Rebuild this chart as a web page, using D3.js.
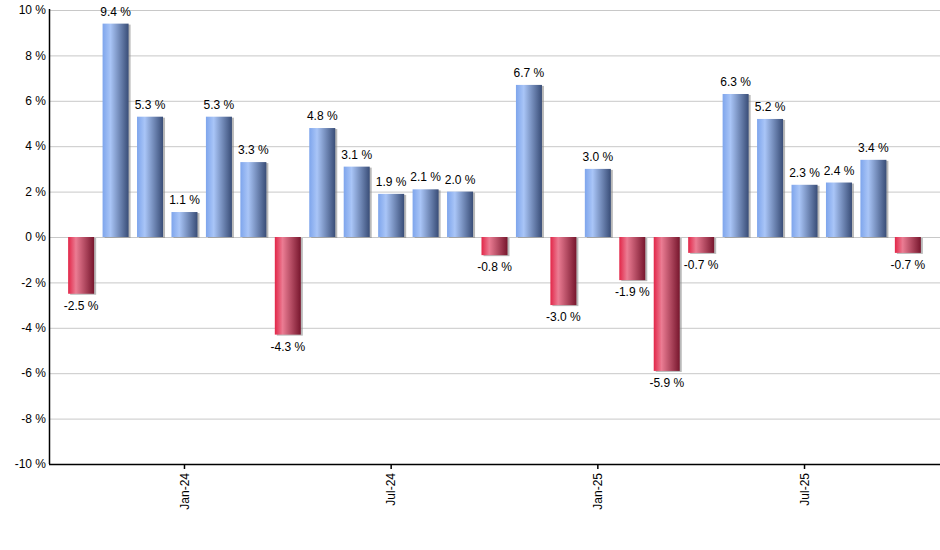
<!DOCTYPE html>
<html>
<head>
  <meta charset="utf-8">
  <script src="https://d3js.org/d3.v7.min.js"></script>
  <style>
    body { margin: 0; background: #fff; }
    svg { font-family: "Liberation Sans", Arial, sans-serif; }
    .grid line { stroke: #c8c8c8; stroke-width: 1px; }
    .lbl { font-size: 12px; fill: #000; }
  </style>
</head>
<body>
  <svg></svg>
  <script>
    const width = 940, height = 550;

    // monthly returns, Oct-23 .. Oct-25
    const months = ["Oct-23","Nov-23","Dec-23","Jan-24","Feb-24","Mar-24","Apr-24","May-24","Jun-24",
      "Jul-24","Aug-24","Sep-24","Oct-24","Nov-24","Dec-24","Jan-25","Feb-25","Mar-25","Apr-25",
      "May-25","Jun-25","Jul-25","Aug-25","Sep-25","Oct-25"];
    const returns = [-2.5, 9.4, 5.3, 1.1, 5.3, 3.3, -4.3, 4.8, 3.1, 1.9, 2.1, 2.0, -0.8, 6.7,
      -3.0, 3.0, -1.9, -5.9, -0.7, 6.3, 5.2, 2.3, 2.4, 3.4, -0.7];
    const yTicks = [-10, -8, -6, -4, -2, 0, 2, 4, 6, 8, 10];
    const xTickLabels = ["Jan-24", "Jul-24", "Jan-25", "Jul-25"];

    const mLeft = 49, mRight = 940, mTop = 10, mBottom = 464;

    const svg = d3.select("svg").attr("width", width).attr("height", height);

    const defs = svg.append("defs");
    function grad(id, c0, c1, c2) {
      const g = defs.append("linearGradient").attr("id", id)
        .attr("x1", "0%").attr("x2", "100%").attr("y1", "0%").attr("y2", "0%");
      g.append("stop").attr("offset", "0%").attr("stop-color", c0);
      g.append("stop").attr("offset", "30%").attr("stop-color", c1);
      g.append("stop").attr("offset", "100%").attr("stop-color", c2);
    }
    grad("gBlue", "#7ea5ec", "#a9c5f7", "#394d77");
    grad("gRed", "#e22648", "#eb7c93", "#77162d");

    const y = d3.scaleLinear().domain([-10, 10]).range([mBottom, mTop]);
    const x = d3.scaleBand().domain(months).range([64, 925]).paddingInner(0.245).paddingOuter(0.12);

    // gridlines
    svg.append("g").attr("class", "grid")
      .selectAll("line").data(yTicks).enter().append("line")
        .attr("x1", mLeft).attr("x2", mRight)
        .attr("y1", d => y(d) + 0.5).attr("y2", d => y(d) + 0.5);

    // y labels
    svg.append("g").selectAll("text").data(yTicks).enter().append("text")
      .attr("class", "lbl")
      .attr("x", mLeft - 3).attr("y", d => y(d)).attr("dy", "0.35em")
      .attr("text-anchor", "end")
      .text(d => d + " %");

    // bars with shadow
    const bars = svg.append("g");
    bars.selectAll("rect.sh").data(returns).enter().append("rect")
      .attr("x", (d, i) => x(months[i]) + 2)
      .attr("y", d => Math.min(y(d), y(0)) + 1)
      .attr("width", x.bandwidth())
      .attr("height", d => Math.abs(y(d) - y(0)))
      .attr("fill", "#8a8a8a").attr("opacity", 0.6);
    bars.selectAll("rect.b").data(returns).enter().append("rect")
      .attr("x", (d, i) => x(months[i]))
      .attr("y", d => Math.min(y(d), y(0)))
      .attr("width", x.bandwidth())
      .attr("height", d => Math.abs(y(d) - y(0)))
      .attr("fill", d => d >= 0 ? "url(#gBlue)" : "url(#gRed)");

    // value labels
    svg.append("g").selectAll("text").data(returns).enter().append("text")
      .attr("class", "lbl")
      .attr("x", (d, i) => x(months[i]) + x.bandwidth() / 2)
      .attr("y", d => d >= 0 ? y(d) - 8 : y(d) + 16)
      .attr("text-anchor", "middle")
      .text(d => d.toFixed(1) + " %");

    // axes
    svg.append("line").attr("x1", mLeft + 0.5).attr("x2", mLeft + 0.5)
      .attr("y1", mTop - 1).attr("y2", mBottom).attr("stroke", "#000").attr("stroke-width", 1.5);
    svg.append("line").attr("x1", mLeft).attr("x2", mRight)
      .attr("y1", mBottom + 0.5).attr("y2", mBottom + 0.5).attr("stroke", "#000").attr("stroke-width", 1.5);

    const xt = svg.append("g").selectAll("g").data(xTickLabels).enter().append("g")
      .attr("transform", d => "translate(" + (x(d) + x.bandwidth() / 2) + "," + mBottom + ")");
    xt.append("line").attr("y1", 0).attr("y2", 5).attr("stroke", "#000").attr("stroke-width", 1.5);
    xt.append("text").attr("class", "lbl")
      .attr("transform", "rotate(-90)")
      .attr("x", -9).attr("y", 0).attr("dy", "0.35em")
      .attr("text-anchor", "end")
      .text(d => d);
  </script>
</body>
</html>
